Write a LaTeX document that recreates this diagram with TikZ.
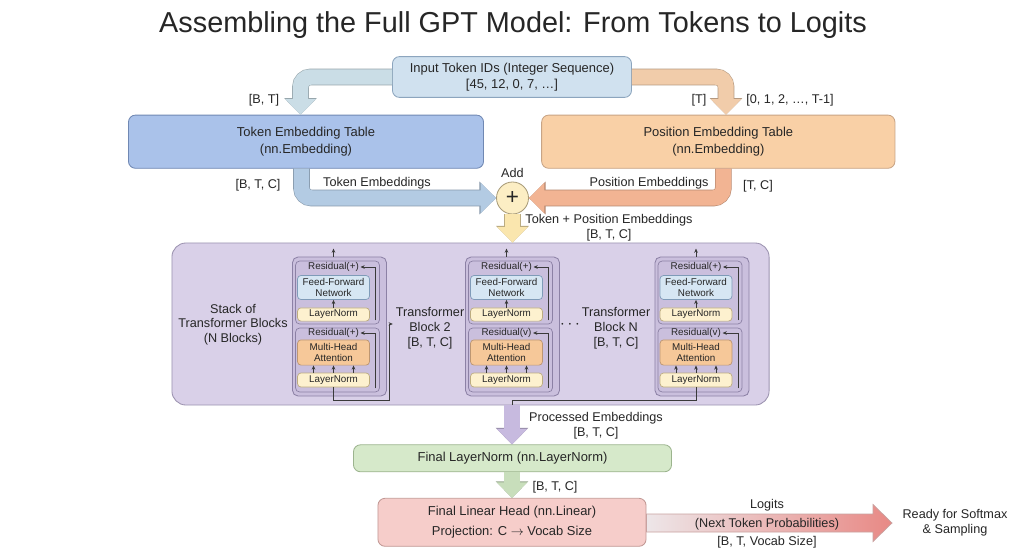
\documentclass[tikz,border=0pt]{standalone}
\usepackage{fontspec}
\setmainfont{Liberation Sans}
\usetikzlibrary{arrows.meta, positioning, calc}
\definecolor{txtGray}{HTML}{262626}
\definecolor{lineGray}{HTML}{3A3A3A}
\definecolor{inFill}{HTML}{D0E1EF}
\definecolor{inDraw}{HTML}{8CA5BE}
\definecolor{tokFill}{HTML}{AAC2EA}
\definecolor{tokDraw}{HTML}{7088B3}
\definecolor{posFill}{HTML}{F9D0A6}
\definecolor{posDraw}{HTML}{C8A485}
\definecolor{addFill}{HTML}{FCEEC4}
\definecolor{addDraw}{HTML}{A99C79}
\definecolor{stkFill}{HTML}{D9D0E8}
\definecolor{stkDraw}{HTML}{9C93B0}
\definecolor{blkFill}{HTML}{CABFDD}
\definecolor{blkDraw}{HTML}{8C81A5}
\definecolor{ffnFill}{HTML}{D6E6F3}
\definecolor{ffnDraw}{HTML}{7F9BB8}
\definecolor{lnFill}{HTML}{FDF1CF}
\definecolor{lnDraw}{HTML}{BCAC80}
\definecolor{mhaFill}{HTML}{F6C899}
\definecolor{mhaDraw}{HTML}{BD9672}
\definecolor{flnFill}{HTML}{D6E9CA}
\definecolor{flnDraw}{HTML}{9CB48E}
\definecolor{linFill}{HTML}{F6CDCA}
\definecolor{linDraw}{HTML}{C29995}
\definecolor{arrTokIn}{HTML}{CADDE6}
\definecolor{arrPosIn}{HTML}{F1CCAA}
\definecolor{arrTok}{HTML}{B3CBE3}
\definecolor{arrPos}{HTML}{F2B493}
\definecolor{arrAdd}{HTML}{FAE6AE}
\definecolor{arrProc}{HTML}{C7BADF}
\definecolor{arrLn}{HTML}{C8DEBB}
\definecolor{logL}{HTML}{EDE6E8}
\definecolor{logR}{HTML}{E88985}
\definecolor{logD}{HTML}{C9A2A0}

\begin{document}
\begin{tikzpicture}[x=0.025cm, y=-0.025cm,
  every node/.style={font=\fontsize{9}{10.5}\selectfont, text=txtGray},
  box/.style={draw, rounded corners=5pt, align=center, inner sep=0pt, line width=0.6pt, font=\fontsize{9.2}{11.5}\selectfont},
  subbox/.style={draw, rounded corners=2.5pt, align=center, inner sep=0pt, minimum width=1.8cm, line width=0.5pt, font=\fontsize{7}{8}\selectfont},
  blk/.style={draw=blkDraw, fill=blkFill, rounded corners=4pt, minimum width=2.35cm, minimum height=3.475cm, line width=0.6pt},
  grp/.style={draw=blkDraw, fill=blkFill, rounded corners=3pt, minimum width=2.1cm, line width=0.5pt},
  res/.style={font=\fontsize{7}{8}\selectfont, inner sep=1pt},
  flow/.style={draw=lineGray, line width=0.6pt, -{Stealth[length=3pt, width=2.6pt]}},
  fat/.style={draw=#1, line width=11pt, rounded corners=7pt, -{Triangle[length=11pt, width=21pt]},
    preaction={draw=#1!75!black, line width=11.8pt, -{Triangle[length=11.8pt, width=22.6pt]}}},
  lbl/.style={align=center}]
  \path[use as bounding box, fill=white] (0,0) rectangle (1024,559);
  % Title
  \node (title) at (513,25) {\fontsize{20.5}{24}\selectfont Assembling the Full GPT Model: From Tokens to Logits};
  % Input and embedding tables
  \node[box, fill=inFill, draw=inDraw, minimum width=5.975cm, minimum height=1.02cm] (input) at (512,77) {Input Token IDs (Integer Sequence)\\{[45, 12, 0, 7, …]}};
  \node[box, fill=tokFill, draw=tokDraw, minimum width=8.875cm, minimum height=1.33cm] (tok) at (306,141.7) {Token Embedding Table\\(nn.Embedding)};
  \node[box, fill=posFill, draw=posDraw, minimum width=8.83cm, minimum height=1.33cm] (pos) at (718.3,141.7) {Position Embedding Table\\(nn.Embedding)};
  \node[circle, draw=addDraw, fill=addFill, minimum size=0.8cm, inner sep=0pt, line width=0.6pt, font=\fontsize{16}{16}\selectfont] (add) at (512.5,198) {+};
  \node (addlbl) at (512.5,173) {Add};
  \draw[fat=arrTokIn] (input.west) -| ($(tok.north)+(-5.5,0)$);
  \draw[fat=arrPosIn] (input.east) -| ($(pos.north)+(7.7,0)$);
  \draw[fat=arrTok] ($(tok.south)+(-4.5,0)$) |- (add.west);
  \draw[fat=arrPos] ($(pos.south)+(5,0)$) |- (add.east);
  \node (btl) at (264,100) {[B, T]};
  \node (tl) at (699,100) {[T]};
  \node (seq) at (790,100) {[0, 1, 2, …, T-1]};
  \node (btc1) at (258,185) {[B, T, C]};
  \node (tokemb) at (377,183) {Token Embeddings};
  \node (posemb) at (649,183) {Position Embeddings};
  \node (tc) at (758,186) {[T, C]};
  % Transformer stack
  \node[draw=stkDraw, fill=stkFill, rounded corners=10pt, minimum width=14.925cm, minimum height=4.05cm, line width=0.6pt] (stack) at (470.5,324) {};
  \draw[fat=arrAdd] (add.south) -- (add |- stack.north);
  \node[lbl] (tpe) at (609,228) {Token + Position Embeddings\\{[B, T, C]}};
  \foreach \ax/\i/\rl in {333.5/1/+, 506.5/2/v, 696/N/v} {
    \node[blk] (blk\i) at (\ax+6,326.5) {};
    \node[grp, minimum height=1.575cm] (up\i) at (\ax+4,292.5) {};
    \node[grp, minimum height=1.6cm] (lo\i) at (\ax+4,360) {};
    \node[res] (rup\i) at (\ax,267) {Residual(+)};
    \node[subbox, fill=ffnFill, draw=ffnDraw, minimum height=0.6cm] (ffn\i) at (\ax,287.5) {Feed-Forward\\Network};
    \node[subbox, fill=lnFill, draw=lnDraw, minimum height=0.33cm] (lnt\i) at (\ax,314.5) {LayerNorm};
    \node[res] (rlo\i) at (\ax,333) {Residual(\rl)};
    \node[subbox, fill=mhaFill, draw=mhaDraw, minimum height=0.63cm] (mha\i) at (\ax,352.5) {Multi-Head\\Attention};
    \node[subbox, fill=lnFill, draw=lnDraw, minimum height=0.35cm] (lnb\i) at (\ax,380) {LayerNorm};
    \draw[flow] (blk\i.north -| ffn\i) -- ++(0,-8);
    \draw[flow] (lnt\i.north) -- (ffn\i.south);
    \foreach \dx in {-20,0,20}
      \draw[flow] ($(lnb\i.north)+(\dx,0)$) -- ($(mha\i.south)+(\dx,0)$);
    \draw[flow] ($(up\i.south east)+(-4,-4)$) |- (rup\i.east);
    \draw[flow] ($(lo\i.south east)+(-4,-4)$) |- (rlo\i.east);
  }
  \node[lbl] (stklbl) at (233,324.5) {Stack of\\Transformer Blocks\\(N Blocks)};
  \node[lbl] (t2) at (430,328) {Transformer\\Block 2\\{[B, T, C]}};
  \node (dots) at (570,325) {\fontsize{12}{12}\selectfont$\cdots$};
  \node[lbl] (tN) at (616,328) {Transformer\\Block N\\{[B, T, C]}};
  \coordinate (c1) at (389,400);
  \draw[flow] (lnb1.south) |- (c1) |- ($(t2.west)+(2,-4)$);
  \coordinate (c2) at (512,400);
  \draw[draw=lineGray, line width=0.6pt] (lnbN.south) |- (c2) -- (c2 |- stack.south);
  % Output head
  \node[box, fill=flnFill, draw=flnDraw, minimum width=7.95cm, minimum height=0.675cm] (fln) at (512.5,458.3) {Final LayerNorm (nn.LayerNorm)};
  \node[box, fill=linFill, draw=linDraw, minimum width=6.7cm, minimum height=1.2cm] (lin) at (512,522.3) {Final Linear Head (nn.Linear)\\[3pt]Projection: C $\rightarrow$ Vocab Size};
  \draw[fat=arrProc] (c2 |- stack.south) -- (c2 |- fln.north);
  \draw[fat=arrLn] (fln.south -| c2) -- (c2 |- lin.north);
  \node[lbl] (proc) at (596,426) {Processed Embeddings\\{[B, T, C]}};
  \node (btc3) at (555,487) {[B, T, C]};
  \coordinate (logtip) at (892,523);
  \shade[left color=logL, right color=logR, draw=logD, line width=0.5pt]
    ($(lin.east |- logtip)+(0,-9)$) -- ($(logtip)+(-19,-9)$) -- ($(logtip)+(-19,-18.5)$) -- (logtip)
    -- ($(logtip)+(-19,18.5)$) -- ($(logtip)+(-19,9)$) -- ($(lin.east |- logtip)+(0,9)$) -- cycle;
  \node (logits) at (767,505) {Logits};
  \node (ntp) at (767,524) {(Next Token Probabilities)};
  \node (bvs) at (767,542) {[B, T, Vocab Size]};
  \node[lbl] (ready) at (955,523) {Ready for Softmax\\\& Sampling};
\end{tikzpicture}
\end{document}
